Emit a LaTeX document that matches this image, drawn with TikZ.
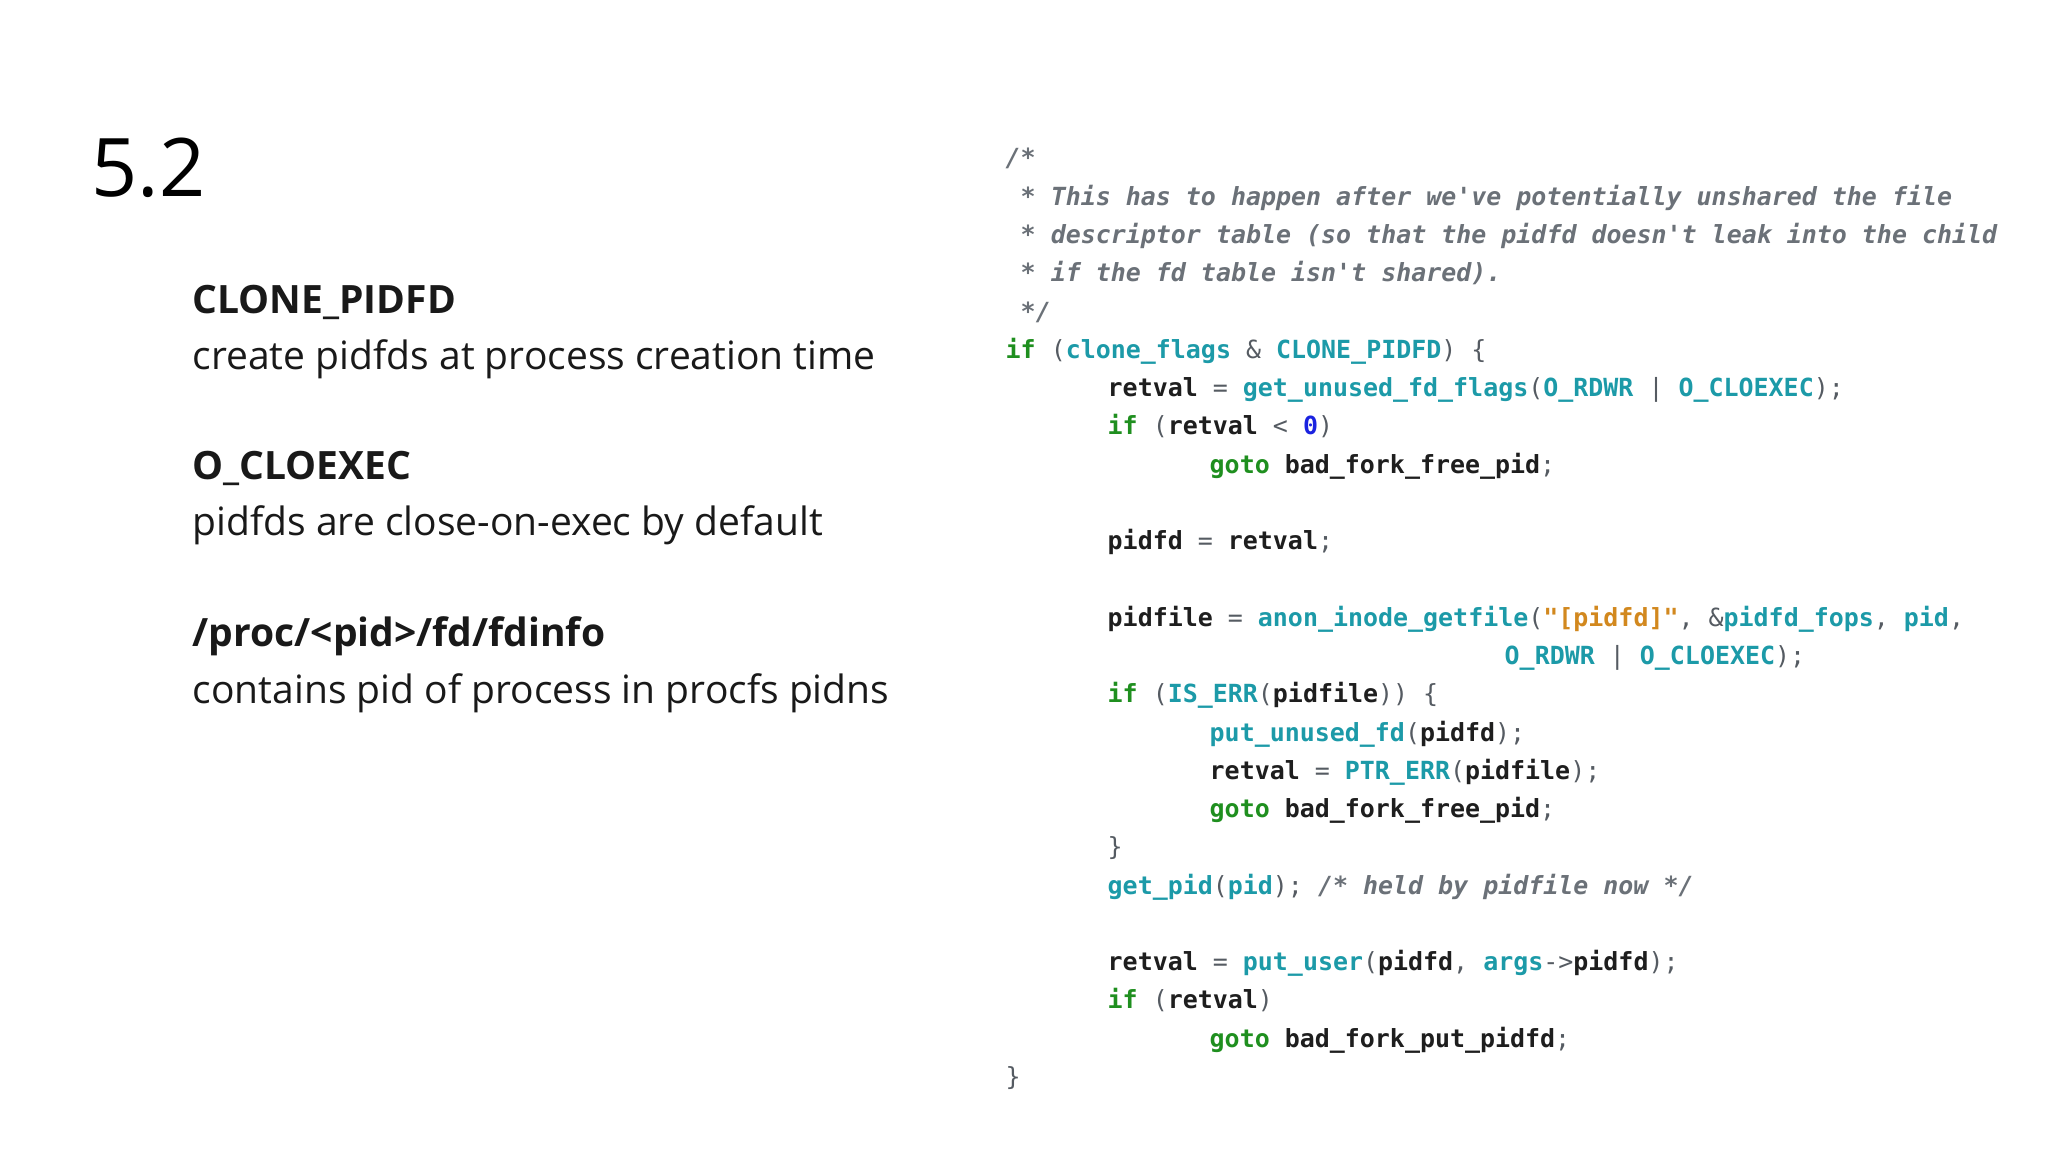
\documentclass[tikz,border=0pt]{standalone}
\usepackage{fontspec}
\setmainfont{Open Sans}
\setmonofont{DejaVu Sans Mono}
\definecolor{kwg}{HTML}{1F8F1F}
\definecolor{idt}{HTML}{1C9AA8}
\definecolor{cmg}{HTML}{6B7178}
\definecolor{pun}{HTML}{555B62}
\definecolor{vbk}{HTML}{1E1E1E}
\definecolor{org}{HTML}{D2881E}
\definecolor{nbl}{HTML}{1A22E0}
\newcommand\K[1]{{\color{kwg}\bfseries #1}}
\newcommand\I[1]{{\color{idt}\bfseries #1}}
\newcommand\V[1]{{\color{vbk}\bfseries #1}}
\newcommand\C[1]{{\color{cmg}\bfseries\itshape #1}}
\newcommand\N[1]{{\color{nbl}\bfseries #1}}
\newcommand\Sg[1]{{\color{org}\bfseries #1}}
\tikzset{codeline/.style={anchor=base west,inner sep=0pt,font=\ttfamily\fontsize{7.1}{8}\selectfont,text=pun},
 head/.style={anchor=base west,inner sep=0pt,font=\bfseries\fontsize{11.1}{13}\selectfont,text=black!90},
 body/.style={anchor=base west,inner sep=0pt,font=\fontsize{11.1}{13}\selectfont,text=black!90}}
\begin{document}
\begin{tikzpicture}[x=1cm,y=1cm]
\useasboundingbox[fill=white] (0,0) rectangle (20.48,-11.52);
\node[anchor=base west,inner sep=0pt,font=\fontsize{23}{26}\selectfont] (title) at (0.91,-1.97) {5.2};
\node[head] (h1) at (1.92,-3.14) {CLONE\_PIDFD};
\node[body] (b1) at (1.92,-3.70) {create pidfds at process creation time};
\node[head] (h2) at (1.92,-4.80) {O\_CLOEXEC};
\node[body] (b2) at (1.92,-5.36) {pidfds are close-on-exec by default};
\node[head] (h3) at (1.92,-6.46) {/proc/<pid>/fd/fdinfo};
\node[body] (b3) at (1.92,-7.04) {contains pid of process in procfs pidns};
\def\xa{10.05}\def\xb{11.07}\def\xc{12.09}
\foreach \k/\x/\t [count=\n] in {
0/\xa/{\C{/*}},
1/\xa/{\C{ * This has to happen after we've potentially unshared the file}},
2/\xa/{\C{ * descriptor table (so that the pidfd doesn't leak into the child}},
3/\xa/{\C{ * if the fd table isn't shared).}},
4/\xa/{\C{ */}},
5/\xa/{\K{if} (\I{clone\_flags} \& \I{CLONE\_PIDFD}) \{},
6/\xb/{\V{retval} = \I{get\_unused\_fd\_flags}(\I{O\_RDWR} | \I{O\_CLOEXEC});},
7/\xb/{\K{if} (\V{retval} < \N{0})},
8/\xc/{\K{goto} \V{bad\_fork\_free\_pid};},
10/\xb/{\V{pidfd} = \V{retval};},
12/\xb/{\V{pidfile} = \I{anon\_inode\_getfile}(\Sg{"[pidfd]"}, \&\I{pidfd\_fops}, \I{pid},},
13/15.04/{\I{O\_RDWR} | \I{O\_CLOEXEC});},
14/\xb/{\K{if} (\I{IS\_ERR}(\V{pidfile})) \{},
15/\xc/{\I{put\_unused\_fd}(\V{pidfd});},
16/\xc/{\V{retval} = \I{PTR\_ERR}(\V{pidfile});},
17/\xc/{\K{goto} \V{bad\_fork\_free\_pid};},
18/\xb/{\}},
19/\xb/{\I{get\_pid}(\I{pid}); \C{/* held by pidfile now */}},
21/\xb/{\V{retval} = \I{put\_user}(\V{pidfd}, \I{args}->\V{pidfd});},
22/\xb/{\K{if} (\V{retval})},
23/\xc/{\K{goto} \V{bad\_fork\_put\_pidfd};},
24/\xa/{\}}}
{\node[codeline] (c\n) at (\x,{-1.67-0.3827*\k}) {\t};}
\end{tikzpicture}
\end{document}
